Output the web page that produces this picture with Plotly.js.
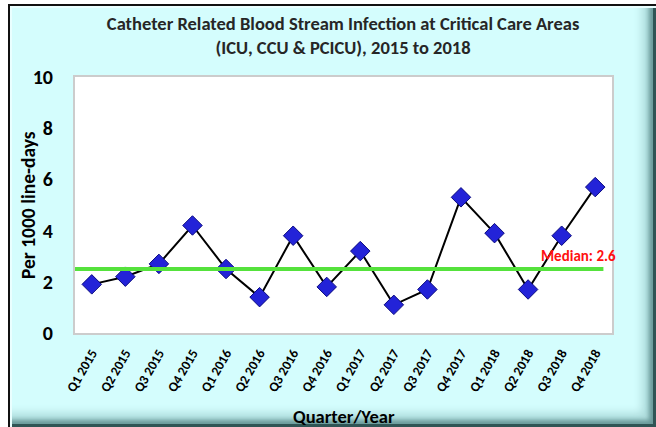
<!DOCTYPE html>
<html>
<head>
<meta charset="utf-8">
<script src="https://cdn.plot.ly/plotly-3.0.1.min.js"></script>
<style>
  html, body { margin: 0; padding: 0; background: #ffffff; }
  #frame {
    position: absolute; left: 8px; top: 4px; width: 646px; height: 421px;
    background: #D4FDFD;
    border-left: 2px solid #111; border-top: 2px solid #111;
    box-shadow: inset 2px 2px 0 #eaffff, inset -3px -3px 0 #2f5555, inset -7px -7px 4px #6a9a9a, inset -14px -14px 8px #aedcdc;
  }
  #chart { position: absolute; left: 0; top: 0; width: 656px; height: 427px; }
</style>
</head>
<body>
<div id="frame"></div>
<div id="chart"></div>
<script>
const quarters = ["Q1 2015","Q2 2015","Q3 2015","Q4 2015","Q1 2016","Q2 2016","Q3 2016","Q4 2016",
                  "Q1 2017","Q2 2017","Q3 2017","Q4 2017","Q1 2018","Q2 2018","Q3 2018","Q4 2018"];
const rates = [1.9, 2.2, 2.7, 4.2, 2.5, 1.4, 3.8, 1.8, 3.2, 1.1, 1.7, 5.3, 3.9, 1.7, 3.8, 5.7];
const medianLine = 2.5;
const medianLabel = "Median: 2.6";
const yTicks = [0, 2, 4, 6, 8, 10];
const xTitle = "Quarter/Year";
const yTitle = "Per 1000 line-days";

const font = "Carlito, 'Liberation Sans', Arial, sans-serif";

const traces = [{
  type: "scatter", mode: "lines+markers",
  x: quarters, y: rates,
  line: { color: "#000000", width: 2 },
  marker: { symbol: "diamond", size: 15, color: "#2323D8", line: { color: "#0A0A80", width: 1 } },
  cliponaxis: false, hoverinfo: "skip"
}];

const layout = {
  width: 656, height: 427,
  paper_bgcolor: "rgba(0,0,0,0)", plot_bgcolor: "#ffffff",
  margin: { l: 75, r: 44, t: 77, b: 94 },
  showlegend: false,
  title: {
    text: "<b>Catheter Related Blood Stream Infection at Critical Care Areas<br>(ICU, CCU & PCICU), 2015 to 2018</b>",
    font: { family: font, size: 18.5, color: "#262626" },
    x: 0.523, xanchor: "center", yref: "container", y: 0.93, yanchor: "middle"
  },
  xaxis: {
    type: "category", range: [-0.5, 15.5],
    tickvals: quarters, ticktext: quarters.map(q => "<b>" + q + "</b>"),
    tickangle: -60, tickfont: { family: font, size: 13.5, color: "#000" },
    showline: true, mirror: true, linecolor: "#CCCCCC", linewidth: 2,
    showgrid: false, ticks: "", zeroline: false, ticklabelstandoff: 5
  },
  yaxis: {
    range: [0, 10], tickvals: yTicks, ticktext: yTicks.map(v => "<b>" + v + "</b>"),
    tickfont: { family: font, size: 20, color: "#000" },
    showline: true, mirror: true, linecolor: "#CCCCCC", linewidth: 2,
    showgrid: false, ticks: "", zeroline: false, ticklabelstandoff: 16
  },
  shapes: [{
    type: "line", xref: "paper", yref: "y", x0: 0, x1: 0.984, y0: medianLine, y1: medianLine,
    line: { color: "#55E23C", width: 4 }
  }],
  annotations: [{
    xref: "paper", yref: "y", x: 1.012, y: medianLine, xanchor: "right", yanchor: "bottom", yshift: 2,
    text: "<b>" + medianLabel + "</b>", showarrow: false,
    font: { family: font, size: 15, color: "#FF1010" }
  }, {
    xref: "paper", yref: "paper", x: 0.5, y: -0.325, xanchor: "center", yanchor: "middle",
    text: "<b>" + xTitle + "</b>", showarrow: false,
    font: { family: font, size: 18.5, color: "#000" }
  }, {
    xref: "paper", yref: "paper", x: -0.0875, y: 0.5, xanchor: "center", yanchor: "middle", textangle: -90,
    text: "<b>" + yTitle + "</b>", showarrow: false,
    font: { family: font, size: 19.5, color: "#000" }
  }]
};

Plotly.newPlot("chart", traces, layout, { displayModeBar: false, staticPlot: true });
</script>
</body>
</html>
